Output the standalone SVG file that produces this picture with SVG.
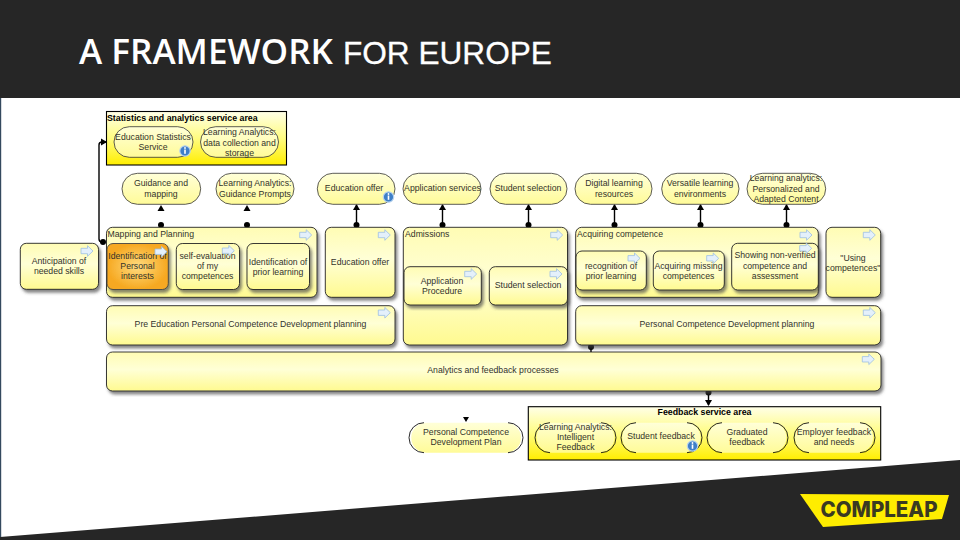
<svg xmlns="http://www.w3.org/2000/svg" xmlns:xlink="http://www.w3.org/1999/xlink" width="960" height="540" viewBox="0 0 960 540">
<style>
text{font-family:"Liberation Sans",Arial,sans-serif;font-size:8.7px;fill:#33332a;text-anchor:middle}
g[id^=n-] text{transform:translateY(-.8px)}
.l{text-anchor:start}
.b{font-weight:700;fill:#000;font-size:8.8px}
.box{fill:url(#gb);stroke:#222;stroke-width:.9;filter:url(#sh)}
.org{fill:url(#go);stroke:#444;stroke-width:.9;filter:url(#sh)}
.st{fill:url(#gs);stroke:#333;stroke-width:.8}
.sf{fill:url(#gs);stroke:none}
.arc{fill:none;stroke:#111;stroke-width:.9}
.area{fill:url(#ga);stroke:#000;stroke-width:1.1}
.c{fill:none;stroke:#000;stroke-width:1.4}
.g{fill:none;stroke:none}
.c,.g{marker-start:url(#dot);marker-end:url(#tri)}
</style>
<defs>
<linearGradient id="gb" x1="0" y1="0" x2="0" y2="1"><stop offset="0" stop-color="#fffcb4"/><stop offset=".45" stop-color="#ffffd6"/><stop offset="1" stop-color="#fffa90"/></linearGradient>
<linearGradient id="gs" x1="0" y1="0" x2="0" y2="1"><stop offset="0" stop-color="#ffffd8"/><stop offset="1" stop-color="#fffb98"/></linearGradient>
<linearGradient id="ga" x1="0" y1="0" x2="0" y2="1"><stop offset="0" stop-color="#ffffe8"/><stop offset=".5" stop-color="#fffc80"/><stop offset="1" stop-color="#ffee00"/></linearGradient>
<radialGradient id="go"><stop offset="0" stop-color="#ffdc80"/><stop offset="1" stop-color="#f6a820"/></radialGradient>
<filter id="sh" x="-10%" y="-10%" width="125%" height="125%"><feDropShadow dx="2" dy="3" stdDeviation="1.8" flood-color="#444" flood-opacity=".65"/></filter>
<marker id="dot" markerUnits="userSpaceOnUse" markerWidth="8" markerHeight="8" refX="4" refY="4"><circle cx="4" cy="4" r="3" fill="#000"/></marker>
<marker id="tri" markerUnits="userSpaceOnUse" markerWidth="8" markerHeight="8" refX="5" refY="4" orient="auto"><path d="M0 .5L6 4L0 7.500Z" fill="#000"/></marker>
<g id="ar"><path d="M-6-2.700H.5V-5.300L6 0L.5 5.300V2.700H-6Z" fill="#e4f0fb" stroke="#9dbfe2" stroke-width=".8"/></g>
<g id="inf"><circle r="5.200" fill="#3f7fc8" stroke="#b8d4ee" stroke-width="1.200"/><rect x="-.8" y="-1.500" width="1.600" height="4.300" fill="#fff"/><circle cy="-3" r=".9" fill="#fff"/></g>
</defs>

<rect width="960" height="540" fill="#fff"/>
<g id="chrome">
<rect width="960" height="98" fill="#262626"/>
<rect y="98" width="1.200" height="440" fill="#34495e"/>
<polygon points="0,537 960,460 960,540 0,540" fill="#262626"/>
<polygon points="800,494 949,495 942,519 823,527" fill="#ffed00"/>
<text x="879" y="516.500" style="font-family:Inter,'Liberation Sans',sans-serif;font-size:22px;font-weight:800;fill:#3a3a22" textLength="117" lengthAdjust="spacingAndGlyphs">COMPLEAP</text>
<text class="l" x="79" y="64" style="font-family:'Open Sans','Liberation Sans',sans-serif;font-size:33.500px;font-weight:600;fill:#fff" textLength="254" lengthAdjust="spacingAndGlyphs">A FRAMEWORK</text>
<text class="l" x="343" y="63.500" style="font-size:31.600px;fill:#fff;stroke:#fff;stroke-width:.3">FOR EUROPE</text>
</g>

<g id="connectors">
<path class="c" d="M103 242H102Q99 242 99 239V145Q99 142 102 142H106"/>
<path class="g" d="M161 225V206"/>
<path class="g" d="M247 225V206"/>
<path class="c" d="M356.500 225V205"/>
<path class="c" d="M442.500 225V205"/>
<path class="c" d="M528.500 225V205"/>
<path class="c" d="M614.500 225V205"/>
<path class="c" d="M700.500 225V205"/>
<path class="c" d="M786.500 225V205"/>
<path class="c" d="M591 347V352" style="marker-end:none"/>
<path class="c" d="M708.500 392.500V405"/>
<polygon points="463,417 469,417 466,422" fill="#000"/>
</g>

<g id="n-stat"><rect class="area" x="106.500" y="111.500" width="180" height="53.500"/><text class="l b" x="107" y="121.500">Statistics and analytics service area</text></g>
<g id="n-edustat"><rect class="st" x="114" y="126.700" width="79" height="30.600" rx="15.300"/><text x="153" y="141">Education Statistics</text><text x="153" y="151">Service</text><use xlink:href="#inf" href="#inf" x="185" y="151"/></g>
<g id="n-ladata"><rect class="st" x="200.500" y="126.700" width="78" height="30.600" rx="15.300"/><text x="239.500" y="136">Learning Analytics:</text><text x="239.500" y="146.500">data collection and</text><text x="239.500" y="156.500">storage</text></g>

<g id="n-guid"><rect class="st" x="122" y="173.300" width="78.700" height="31" rx="15.500"/><text x="161" y="187">Guidance and</text><text x="161" y="197.500">mapping</text></g>
<g id="n-lagp"><rect class="st" x="216" y="173.300" width="78" height="31" rx="15.500"/><text x="255" y="187">Learning Analytics:</text><text x="255" y="197.500">Guidance Prompts</text></g>
<g id="n-eduoffer"><rect class="st" x="317.300" y="173.300" width="77.700" height="31" rx="15.500"/><text x="354" y="191.500">Education offer</text><use xlink:href="#inf" href="#inf" x="388.500" y="197"/></g>
<g id="n-appserv"><rect class="st" x="403" y="173.300" width="78" height="31" rx="15.500"/><text x="442.500" y="191.500">Application services</text></g>
<g id="n-studsel"><rect class="st" x="490" y="173.300" width="77" height="31" rx="15.500"/><text x="528" y="191.500">Student selection</text></g>
<g id="n-digital"><rect class="st" x="575" y="173.300" width="77" height="31" rx="15.500"/><text x="614" y="187">Digital learning</text><text x="614" y="197.500">resources</text></g>
<g id="n-versatile"><rect class="st" x="661.700" y="173.300" width="77.300" height="31" rx="15.500"/><text x="700" y="187">Versatile learning</text><text x="700" y="197.500">environments</text></g>
<g id="n-lapers"><rect class="st" x="747" y="173.300" width="78.700" height="31" rx="15.500"/><text x="786" y="182">Learning analytics:</text><text x="786" y="192.500">Personalized and</text><text x="786" y="203">Adapted Content</text></g>

<g id="n-anticip"><rect class="box" x="20.300" y="243.300" width="78.200" height="46" rx="6"/><text x="59" y="265">Anticipation of</text><text x="59" y="275">needed skills</text><use xlink:href="#ar" href="#ar" x="87" y="251"/></g>
<g id="n-mapping"><rect class="box" x="106.500" y="227.300" width="210.500" height="70" rx="6"/><text class="l" x="107.500" y="237.500">Mapping and Planning</text><use xlink:href="#ar" href="#ar" x="305.700" y="235"/></g>
<g id="n-idpers"><rect class="org" x="107" y="243.500" width="61.300" height="46" rx="6"/><text x="137.500" y="260">Identification of</text><text x="137.500" y="270">Personal</text><text x="137.500" y="280">interests</text><use xlink:href="#ar" href="#ar" x="161" y="251.700"/></g>
<g id="n-selfeval"><rect class="box" x="176.300" y="243.500" width="63.200" height="46" rx="6"/><text x="207.500" y="260">self-evaluation</text><text x="207.500" y="270">of my</text><text x="207.500" y="280">competences</text><use xlink:href="#ar" href="#ar" x="228.300" y="250.700"/></g>
<g id="n-idprior"><rect class="box" x="247" y="243.500" width="62.500" height="46" rx="6"/><text x="278" y="265.500">Identification of</text><text x="278" y="275.500">prior learning</text></g>
<g id="n-eduoffer2"><rect class="box" x="325.300" y="227.300" width="69.700" height="70" rx="6"/><text x="360" y="265.500">Education offer</text><use xlink:href="#ar" href="#ar" x="384.300" y="235"/></g>
<g id="n-admissions"><rect class="box" x="403.300" y="227.300" width="164.200" height="117.700" rx="6"/><text class="l" x="405" y="237.500">Admissions</text><use xlink:href="#ar" href="#ar" x="556.700" y="235"/></g>
<g id="n-appproc"><rect class="box" x="404" y="266.700" width="77.300" height="38.300" rx="6"/><text x="442" y="284.500">Application</text><text x="442" y="294.500">Procedure</text><use xlink:href="#ar" href="#ar" x="470.700" y="274"/></g>
<g id="n-studsel2"><rect class="box" x="489.300" y="266.700" width="78.200" height="38.300" rx="6"/><text x="528" y="289">Student selection</text><use xlink:href="#ar" href="#ar" x="556" y="274"/></g>
<g id="n-preedu"><rect class="box" x="106.500" y="305.700" width="288.500" height="39.300" rx="6"/><text x="250.500" y="328">Pre Education Personal Competence Development planning</text><use xlink:href="#ar" href="#ar" x="384.300" y="312.700"/></g>
<g id="n-acquiring"><rect class="box" x="575.700" y="227.300" width="242.600" height="70" rx="6"/><text class="l" x="577" y="237.500">Acquiring competence</text><use xlink:href="#ar" href="#ar" x="806" y="235"/></g>
<g id="n-recog"><rect class="box" x="576" y="251" width="70.300" height="39" rx="6"/><text x="611" y="270">recognition of</text><text x="611" y="280">prior learning</text><use xlink:href="#ar" href="#ar" x="634" y="258.300"/></g>
<g id="n-missing"><rect class="box" x="653.300" y="251" width="71" height="39" rx="6"/><text x="688.500" y="270">Acquiring missing</text><text x="688.500" y="280">competences</text><use xlink:href="#ar" href="#ar" x="712.700" y="258.300"/></g>
<g id="n-showing"><rect class="box" x="731.700" y="243.300" width="86.600" height="46.700" rx="6"/><text x="775" y="259">Showing non-verified</text><text x="775" y="269.500">competence and</text><text x="775" y="279.500">assessment</text><use xlink:href="#ar" href="#ar" x="805.700" y="248.300"/></g>
<g id="n-using"><rect class="box" x="826" y="227.300" width="54.700" height="70" rx="6"/><text x="853" y="262">"Using</text><text x="853" y="272">competences"</text><use xlink:href="#ar" href="#ar" x="869.300" y="235"/></g>
<g id="n-pcd"><rect class="box" x="575.700" y="305.700" width="305" height="39.300" rx="6"/><text x="727" y="328">Personal Competence Development planning</text><use xlink:href="#ar" href="#ar" x="869.300" y="312.700"/></g>
<g id="n-analytics"><rect class="box" x="106.500" y="352" width="774.500" height="39" rx="6"/><text x="493" y="374">Analytics and feedback processes</text><use xlink:href="#ar" href="#ar" x="868.300" y="359.300"/></g>

<g id="n-pcdplan"><rect class="sf" x="411.300" y="422.700" width="109.700" height="30" rx="15"/><path class="arc" d="M424 422.700A15 15 0 0 0 424 452.700M508 422.700A15 15 0 0 1 508 452.700"/><text x="466" y="436">Personal Competence</text><text x="466" y="446">Development Plan</text></g>
<g id="n-feedback"><rect class="area" x="528.300" y="406.700" width="352.400" height="53.300"/><text class="b" x="704.500" y="416">Feedback service area</text></g>
<g id="n-laif"><rect class="sf" x="536.700" y="422.700" width="77.600" height="30" rx="15" fill-opacity=".9"/><path class="arc" d="M550 422.700A15 15 0 0 0 550 452.700M601 422.700A15 15 0 0 1 601 452.700"/><text x="575.500" y="431">Learning Analytics:</text><text x="575.500" y="441">Intelligent</text><text x="575.500" y="451">Feedback</text></g>
<g id="n-studfb"><rect class="sf" x="622.300" y="422.700" width="78" height="30" rx="15"/><path class="arc" d="M636 422.700A15 15 0 0 0 636 452.700M687 422.700A15 15 0 0 1 687 452.700"/><text x="661" y="440">Student feedback</text><use xlink:href="#inf" href="#inf" x="692.500" y="446"/></g>
<g id="n-gradfb"><rect class="sf" x="708.300" y="422.700" width="78" height="30" rx="15"/><path class="arc" d="M722 422.700A15 15 0 0 0 722 452.700M773 422.700A15 15 0 0 1 773 452.700"/><text x="747" y="436">Graduated</text><text x="747" y="446">feedback</text></g>
<g id="n-empfb"><rect class="sf" x="795" y="422.700" width="78" height="30" rx="15"/><path class="arc" d="M809 422.700A15 15 0 0 0 809 452.700M860 422.700A15 15 0 0 1 860 452.700"/><text x="834" y="436">Employer feedback</text><text x="834" y="446">and needs</text></g>
</svg>
